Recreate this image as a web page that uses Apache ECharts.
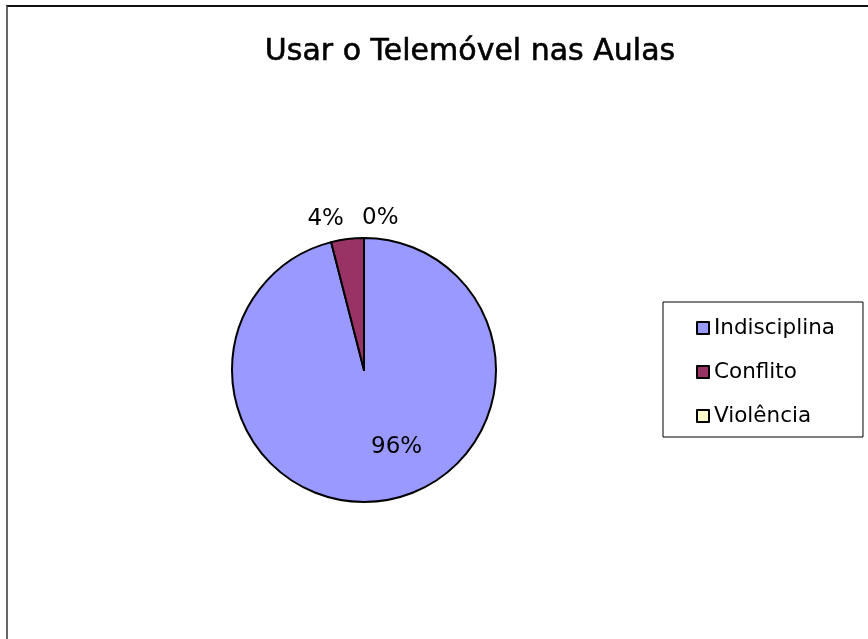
<!DOCTYPE html>
<html>
<head>
<meta charset="utf-8">
<script src="https://cdn.jsdelivr.net/npm/echarts@6/dist/echarts.min.js"></script>
<style>
  html, body { margin: 0; padding: 0; background: #fff; }
  #chart { position: absolute; left: 0; top: 0; width: 868px; height: 639px; }
  /* frame of the embedded chart object, cut off right and bottom */
  .frame {
    position: absolute; left: 6px; top: 5px; width: 900px; height: 700px;
    border-top: 2px solid #111; border-left: 2px solid #666;
  }
</style>
</head>
<body>
<div class="frame"></div>
<div id="chart"></div>
<script>
// 数据
const titleText = 'Usar o Telemóvel nas Aulas'
const categories = ['Indisciplina', 'Conflito', 'Violência']
const values = [96, 4, 0]
const colors = ['#9999ff', '#993366', '#ffffcc']

const chart = echarts.init(document.getElementById('chart'))

const option = {
  animation: false,
  title: {
    text: titleText,
    left: 465,
    textAlign: 'center',
    top: 32,
    textStyle: {
      fontFamily: 'DejaVu Sans',
      fontSize: 30,
      fontWeight: 'normal',
      color: '#000',
      textBorderColor: '#000',
      textBorderWidth: 0.6
    }
  },
  legend: {
    orient: 'vertical',
    left: 663,
    top: 302,
    padding: [15, 28, 10, 33],
    itemGap: 22,
    itemWidth: 12,
    itemHeight: 12,
    icon: 'rect',
    borderColor: '#000',
    borderWidth: 1,
    backgroundColor: '#fff',
    data: categories,
    itemStyle: { borderColor: '#000', borderWidth: 2 },
    textStyle: {
      fontFamily: 'DejaVu Sans',
      fontSize: 21.5,
      lineHeight: 22,
      color: '#000',
      padding: [0, 0, 0, 0]
    }
  },
  series: [
    {
      type: 'pie',
      center: [364, 370],
      radius: 132,
      startAngle: 90,
      clockwise: true,
      avoidLabelOverlap: false,
      itemStyle: { borderColor: '#000', borderWidth: 2 },
      label: {
        show: true,
        position: 'outside',
        formatter: '{d}%',
        fontFamily: 'DejaVu Sans',
        fontSize: 23,
        color: '#000'
      },
      labelLine: { show: false, length: 20, length2: 0 },
      labelLayout: function (p) {
        // 手动微调标签位置
        if (p.dataIndex === 0) return { dx: 24, dy: 9 }
        if (p.dataIndex === 1) return { dx: 4 }
        if (p.dataIndex === 2) return { align: 'left', dx: 3 }
        return {}
      },
      data: categories.map((name, i) => ({
        name: name,
        value: values[i],
        itemStyle: { color: colors[i] },
        label: i === 0 ? { position: 'inside' } : undefined
      }))
    }
  ]
}

chart.setOption(option)
</script>
</body>
</html>
